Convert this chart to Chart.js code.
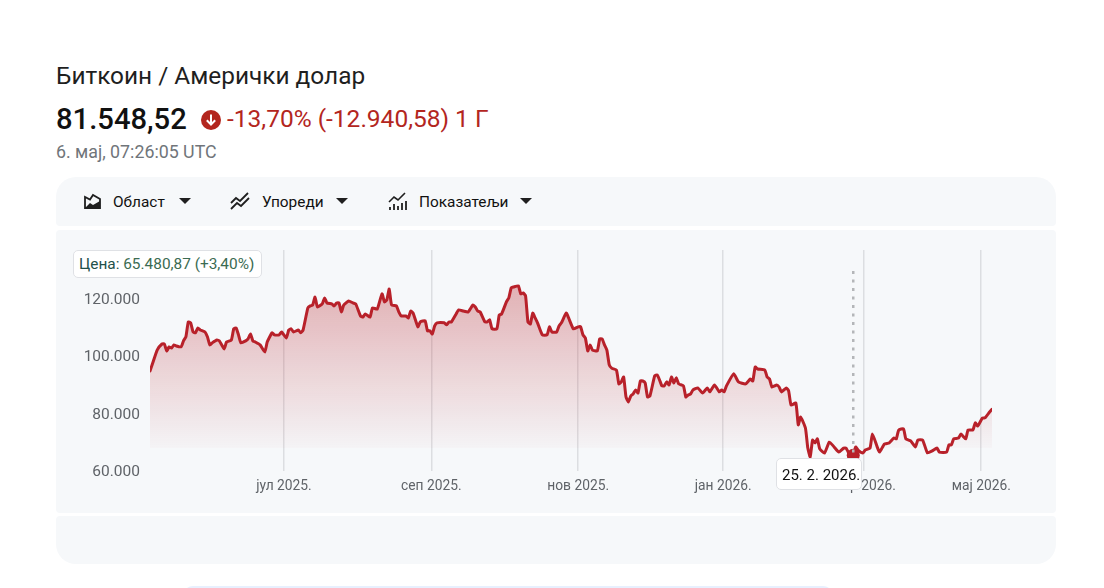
<!DOCTYPE html>
<html>
<head>
<meta charset="utf-8">
<title>Биткоин / Амерички долар</title>
<script src="https://cdn.jsdelivr.net/npm/chart.js@4/dist/chart.umd.min.js"></script>
<style>
  html, body { margin: 0; padding: 0; background: #fff; overflow: hidden; }
  body { width: 1104px; height: 588px; position: relative; font-family: Roboto, sans-serif; color: #1f1f1f; }
  .abs { position: absolute; white-space: nowrap; }
  .panel { position: absolute; left: 56px; width: 1000px; background: #f6f8fa; }
  .tool { position: absolute; top: 193px; font-size: 15.4px; font-weight: 400; line-height: 18px; white-space: nowrap; color: #111; }
  .caret { position: absolute; top: 198px; width: 0; height: 0; border-left: 6.5px solid transparent; border-right: 6.5px solid transparent; border-top: 6.5px solid #1f1f1f; }
  .tag { position: absolute; background: #fff; border: 1px solid #dfe1e5; border-radius: 5px; box-sizing: border-box; white-space: nowrap; }
  svg { position: absolute; }
</style>
</head>
<body>
<div class="abs" id="title" style="left:56px;top:61px;font-size:24.4px;line-height:30px;"></div>
<div class="abs" id="price" style="left:56px;top:101px;font-size:29.2px;line-height:36px;font-weight:500;color:#111;"></div>
<svg style="left:201px;top:110px" width="20" height="20" viewBox="0 0 20 20">
  <circle cx="10" cy="10" r="10" fill="#b3261e"/>
  <path d="M10 4.5v10M5.8 10.2L10 14.5l4.2-4.3" fill="none" stroke="#fff" stroke-width="2"/>
</svg>
<div class="abs" id="change" style="left:227px;top:104px;font-size:24.5px;line-height:30px;color:#b3261e;"></div>
<div class="abs" id="stamp" style="left:56px;top:142px;font-size:17.8px;line-height:20px;color:#70757a;"></div>

<div class="panel" style="top:177px;height:49px;border-radius:20px 20px 4px 4px;"></div>
<div class="panel" id="chartPanel" style="top:230px;height:283px;border-radius:4px;">
  <canvas id="btcChart" width="1000" height="283" style="display:block;width:1000px;height:283px;"></canvas>
</div>
<div class="panel" style="top:516px;height:48px;border-radius:4px 4px 20px 20px;"></div>
<div style="position:absolute;left:183px;top:586px;width:650px;height:20px;background:#e8f0fe;border-radius:12px;"></div>

<svg style="left:83px;top:192px" width="19" height="18" viewBox="0 0 19 18">
  <path d="M2 16V5l5 2.5L10 3l7 4v9z" fill="none" stroke="#1f1f1f" stroke-width="1.8"/>
  <path d="M2 16l5-5 3 2 7-4v7z" fill="#1f1f1f"/>
</svg>
<div class="tool" id="tool0" style="left:113px;"></div><div class="caret" style="left:179px;"></div>
<svg style="left:230px;top:192px" width="20" height="18" viewBox="0 0 20 18">
  <path d="M1 11l5-5 4 3 8-8M1 17l6-6 4 3 8-8" fill="none" stroke="#1f1f1f" stroke-width="1.8"/>
</svg>
<div class="tool" id="tool1" style="left:262px;"></div><div class="caret" style="left:336px;"></div>
<svg style="left:388px;top:192px" width="20" height="19" viewBox="0 0 20 19">
  <path d="M1 10l5-5 4 3 7-7" fill="none" stroke="#1f1f1f" stroke-width="1.6"/>
  <path d="M2 15v3M6 12v6M10 14v4M14 11v7M18 9v9" fill="none" stroke="#1f1f1f" stroke-width="1.8"/>
</svg>
<div class="tool" id="tool2" style="left:419px;"></div><div class="caret" style="left:520px;"></div>

<div class="tag" id="priceTag" style="left:73px;top:250px;width:189px;height:28px;font-size:15.4px;line-height:27px;padding-left:5px;"></div>
<div class="tag" id="dateTag" style="left:776px;top:458px;width:86px;height:32px;font-size:15px;line-height:33px;padding-left:5px;color:#111;"></div>

<script>
const titleText = 'Биткоин / Амерички долар';
const lastPrice = '81.548,52';
const changeText = '-13,70% (-12.940,58) 1 Г';
const stampText = '6. мај, 07:26:05 UTC';
const toolLabels = ['Област', 'Упореди', 'Показатељи'];
const hoverDate = '25. 2. 2026.';
const hoverPriceText = '65.480,87';
const hoverChangeText = '(+3,40%)';

// days since 6 May 2025 and the closing price on that day
const days = [0,1,3,5,6,7,8,9,10,11,13,14,15,16,17,18,19,20,21,23,24,25,26,28,29,31,32,34,35,36,37,38,40,41,42,43,44,46,48,49,51,52,54,55,57,58,59,60,62,63,64,66,67,68,69,70,72,73,74,76,77,78,79,80,81,83,85,86,88,89,90,92,93,95,97,98,99,100,101,103,104,105,107,108,109,110,112,113,115,116,117,118,119,120,123,124,125,126,128,129,131,133,135,136,137,138,140,141,142,143,145,146,147,149,150,151,152,154,155,156,157,158,159,160,161,162,164,166,167,168,170,171,172,174,175,177,179,180,181,182,183,184,185,187,188,189,190,191,192,193,195,196,197,198,199,200,201,202,203,204,205,206,207,208,209,211,212,213,214,215,216,217,218,219,220,221,223,224,225,226,227,229,231,233,234,236,238,239,240,241,244,246,249,251,252,253,254,257,258,259,260,262,263,264,266,267,268,270,271,272,274,275,276,277,278,279,280,282,284,286,288,290,291,293,294,295,296,298,299,301,302,304,305,307,309,311,312,313,315,316,318,320,321,323,325,327,329,330,333,334,335,336,338,339,341,342,344,345,346,348,349,351,352];
const prices = [94900,97300,102200,104300,104300,101900,103300,102900,104000,103600,103300,105400,106800,112000,111700,108500,108200,109900,109200,108500,106800,104000,104700,105700,105400,102600,105000,105700,109600,109900,107500,104700,105400,106100,107800,105400,105000,104000,101500,105000,108200,107500,107500,108500,106400,109200,109600,108500,109200,108200,109200,116900,117600,117900,120700,117200,118300,120400,118600,118300,117600,118600,118600,115500,117900,119300,118600,118300,114100,113700,114800,113700,116900,116500,121800,119000,119700,123500,117900,117600,115500,114100,114100,113400,115800,115100,110300,112000,112400,108900,108900,107800,110600,111700,111700,111000,112000,112000,114800,116200,115800,115500,117900,117200,115800,115500,112000,112000,112700,109600,109600,114400,114800,119000,120400,123900,124200,124600,121800,122100,121100,112000,111300,115100,113400,111700,107500,107500,110300,108500,108500,110600,111700,115100,113400,109600,110300,110300,107500,106400,101900,104000,102200,101900,106100,106100,104000,102200,97000,95900,95200,90400,91100,92800,85800,84100,86200,86900,88300,87200,91400,91400,90700,85800,86200,93200,93500,91800,89700,89700,91100,90000,92800,90700,92500,90400,89700,85800,86500,86900,88300,89000,87200,89000,87600,90000,87600,88300,87600,89700,93900,91100,90400,92100,91400,96300,95600,95200,92800,92100,89300,90000,89300,87600,89000,87900,83000,83700,76100,78800,75000,68000,64900,70800,69800,71200,67700,66300,70100,68400,66600,68000,68000,64900,65480.87,68400,67300,66300,67300,68000,72900,68400,66600,69400,69800,71500,71200,74300,74700,71200,70500,68400,70800,70800,66300,67000,68000,66600,66600,69100,69100,71200,71500,72900,71200,74300,74300,76800,75700,78500,78500,80600,81548.52];

const yTicks = [60000, 80000, 100000, 120000];
const yMax = 137100;
const monthTicks = [56, 117.6, 179, 239.6, 298.5, 347.5];
const monthLabels = ['јул 2025.', 'сеп 2025.', 'нов 2025.', 'јан 2026.', 'мар 2026.', 'мај 2026.'];
const hoverDay = 294;

document.getElementById('title').textContent = titleText;
document.getElementById('price').textContent = lastPrice;
document.getElementById('change').textContent = changeText;
document.getElementById('stamp').textContent = stampText;
toolLabels.forEach((t, i) => { document.getElementById('tool' + i).textContent = t; });
document.getElementById('dateTag').textContent = hoverDate;
document.getElementById('priceTag').innerHTML =
    '<span style="color:#22504a">Цена: </span><span style="color:#3b6b52">' + hoverPriceText + ' ' + hoverChangeText + '</span>';

// dotted cursor line above the hovered day
const cursorLine = {
    id: 'cursorLine',
    afterDatasetsDraw(chart) {
        const x = chart.scales.x.getPixelForValue(hoverDay);
        const y = chart.scales.y.getPixelForValue(prices[days.indexOf(hoverDay)]);
        const ctx = chart.ctx;
        ctx.save();
        ctx.strokeStyle = '#b4b6b9';
        ctx.lineWidth = 2.5;
        ctx.setLineDash([3, 5.5]);
        ctx.beginPath();
        ctx.moveTo(x, chart.chartArea.top + 21);
        ctx.lineTo(x, y);
        ctx.stroke();
        ctx.restore();
    }
};

new Chart(document.getElementById('btcChart'), {
    type: 'line',
    plugins: [cursorLine],
    data: {
        datasets: [{
            data: days.map((d, i) => ({ x: d, y: prices[i] })),
            borderColor: '#b8212a',
            borderWidth: 3,
            borderJoinStyle: 'round',
            borderCapStyle: 'round',
            tension: 0.15,
            fill: 'origin',
            backgroundColor: (c) => {
                const { chart } = c;
                if (!chart.chartArea) return 'transparent';
                const s = chart.scales.y;
                const g = chart.ctx.createLinearGradient(0, s.getPixelForValue(124600), 0, s.getPixelForValue(68000));
                g.addColorStop(0, 'rgba(183,28,36,0.32)');
                g.addColorStop(0.5, 'rgba(183,28,36,0.17)');
                g.addColorStop(1, 'rgba(183,28,36,0.02)');
                g.addColorStop(1, 'rgba(183,28,36,0)');
                return g;
            },
            pointRadius: (c) => (days[c.dataIndex] === hoverDay ? 6.5 : 0),
            pointBackgroundColor: '#b8212a',
            pointBorderWidth: 0
        }]
    },
    options: {
        responsive: false,
        animation: false,
        layout: { padding: { top: 20, right: 64, bottom: 0, left: 0 } },
        plugins: { legend: { display: false }, tooltip: { enabled: false } },
        scales: {
            x: {
                type: 'linear',
                min: days[0],
                max: days[days.length - 1],
                afterFit(s) { s.height = 42; },
                afterBuildTicks(s) { s.ticks = monthTicks.map(v => ({ value: v })); },
                grid: { color: '#dcdee1', lineWidth: 1.5, drawTicks: false },
                border: { display: false },
                ticks: {
                    autoSkip: false,
                    maxRotation: 0,
                    padding: 7.5,
                    color: '#5f6368',
                    font: { family: 'Roboto', size: 13.8 },
                    callback: (v) => monthLabels[monthTicks.indexOf(v)]
                }
            },
            y: {
                min: yTicks[0],
                max: yMax,
                afterFit(s) { s.width = 94; },
                afterBuildTicks(s) { s.ticks = yTicks.map(v => ({ value: v })); },
                grid: { display: false },
                border: { display: false },
                ticks: {
                    padding: 2,
                    labelOffset: 1,
                    color: '#5f6368',
                    font: { family: 'Roboto', size: 15.5 },
                    callback: (v) => v.toLocaleString('de-DE')
                }
            }
        }
    }
});
</script>
</body>
</html>
